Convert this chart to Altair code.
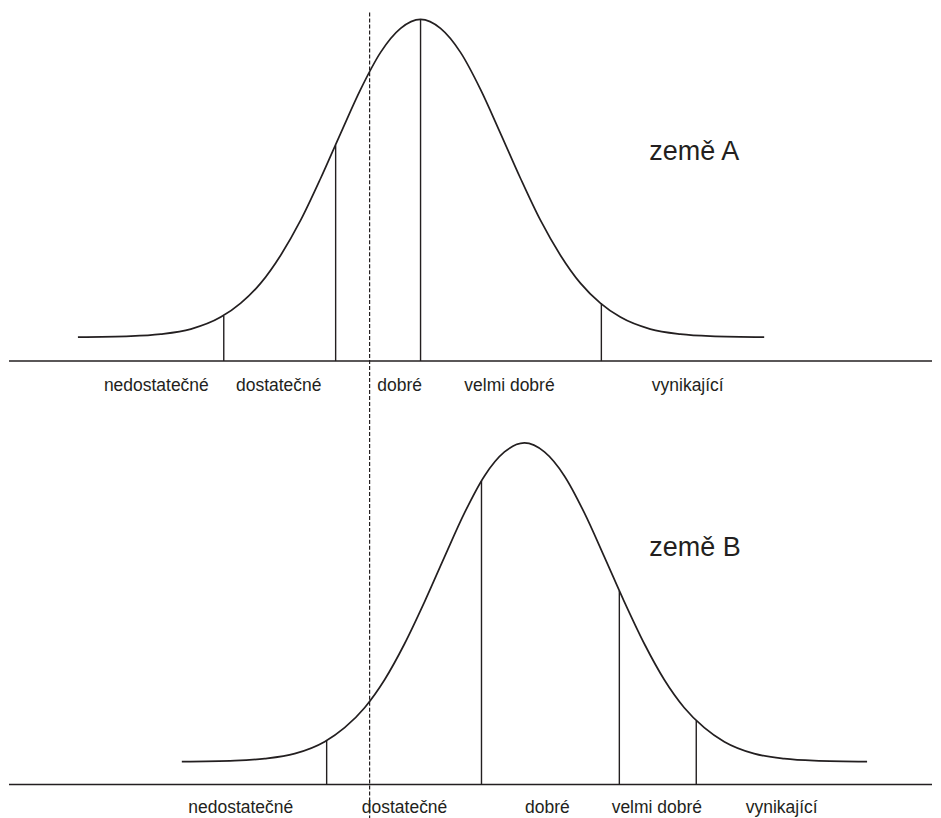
import altair as alt
import pandas as pd

# ---- Country A (země A) ----
a_curve_x = [70, 123, 153, 183, 213, 233, 253, 273, 293, 313, 333, 353, 373, 393, 413,
             433, 453, 473, 493, 513, 533, 553, 573, 593, 613, 643, 673, 703, 757]
a_curve_h = [24, 25, 27, 32, 44, 58, 78, 106, 141, 183, 228, 272, 309, 333, 342,
             333, 309, 272, 228, 183, 141, 106, 78, 58, 44, 32, 27, 25, 24]
a_bound_x = [216, 328, 413, 594]
a_bound_h = [45, 216, 342, 58]
a_label_x = [148.5, 271, 392, 502, 680.5]

# ---- Country B (země B) ----
b_curve_x = [174, 227, 257, 287, 317, 337, 357, 377, 397, 417, 437, 457, 477, 497, 517,
             537, 557, 577, 597, 617, 637, 657, 677, 697, 717, 747, 777, 807, 860]
b_curve_h = [23, 24, 26, 31, 43, 57, 77, 105, 141, 183, 228, 272, 309, 333, 342,
             333, 309, 272, 228, 183, 141, 105, 77, 57, 43, 31, 26, 24, 23]
b_bound_x = [319, 474, 612, 689]
b_bound_h = [44, 304, 194, 64]
b_label_x = [233, 397, 540, 649.5, 774.5]

grades = ["nedostatečné", "dostatečné", "dobré", "velmi dobré", "vynikající"]

# common reference (dashed) line and axis line
dash_x = 362
axis_x = [1, 925]
X_MAX = 925

panels = [
    dict(name="země A", cx=a_curve_x, ch=a_curve_h, bx=a_bound_x, bh=a_bound_h,
         lx=a_label_x, label_h=-30, title_x=642, title_h=201, dom=[-39, 353],
         dash_top=349, height=392),
    dict(name="země B", cx=b_curve_x, ch=b_curve_h, bx=b_bound_x, bh=b_bound_h,
         lx=b_label_x, label_h=-28, title_x=642, title_h=229, dom=[-35, 383],
         dash_top=383, height=418),
]

INK = "#231f20"


def make_panel(p):
    xs = alt.Scale(domain=[0, X_MAX], nice=False, zero=False)
    ys = alt.Scale(domain=p["dom"], nice=False, zero=False)

    base_df = pd.DataFrame({"x": [axis_x[0]], "x2": [axis_x[1]], "y": [0]})
    baseline = alt.Chart(base_df).mark_rule(color=INK, strokeWidth=1.5).encode(
        x=alt.X("x:Q", scale=xs, axis=None), x2="x2:Q",
        y=alt.Y("y:Q", scale=ys, axis=None))

    curve_df = pd.DataFrame({"x": p["cx"], "h": p["ch"]})
    curve = alt.Chart(curve_df).mark_line(color=INK, strokeWidth=1.7,
                                          interpolate="monotone").encode(
        x=alt.X("x:Q", scale=xs, axis=None),
        y=alt.Y("h:Q", scale=ys, axis=None), order="x:Q")

    bound_df = pd.DataFrame({"x": p["bx"], "h": p["bh"], "z": [0] * len(p["bx"])})
    bounds = alt.Chart(bound_df).mark_rule(color=INK, strokeWidth=1.4).encode(
        x=alt.X("x:Q", scale=xs, axis=None),
        y=alt.Y("z:Q", scale=ys, axis=None), y2="h:Q")

    dash_df = pd.DataFrame({"x": [dash_x], "y": [p["dash_top"]], "y2": [p["dom"][0]]})
    dash = alt.Chart(dash_df).mark_rule(color=INK, strokeWidth=1.2,
                                        strokeDash=[4, 2]).encode(
        x=alt.X("x:Q", scale=xs, axis=None),
        y=alt.Y("y:Q", scale=ys, axis=None), y2="y2:Q")

    lab_df = pd.DataFrame({"x": p["lx"], "y": [p["label_h"]] * 5, "t": grades})
    labels = alt.Chart(lab_df).mark_text(color=INK, fontSize=17.5,
                                         font="Liberation Sans",
                                         align="center", baseline="alphabetic").encode(
        x=alt.X("x:Q", scale=xs, axis=None),
        y=alt.Y("y:Q", scale=ys, axis=None), text="t:N")

    t_df = pd.DataFrame({"x": [p["title_x"]], "y": [p["title_h"]], "t": [p["name"]]})
    title = alt.Chart(t_df).mark_text(color=INK, fontSize=27,
                                      font="Liberation Sans",
                                      align="left", baseline="alphabetic").encode(
        x=alt.X("x:Q", scale=xs, axis=None),
        y=alt.Y("y:Q", scale=ys, axis=None), text="t:N")

    return alt.layer(baseline, dash, bounds, curve, labels, title).properties(
        width=X_MAX, height=p["height"])


chart = alt.vconcat(*[make_panel(p) for p in panels], spacing=0).properties(
    padding=0, background="white"
).configure_view(strokeWidth=0)

chart.save("out.html", embed_options={"renderer": "svg", "actions": False})
